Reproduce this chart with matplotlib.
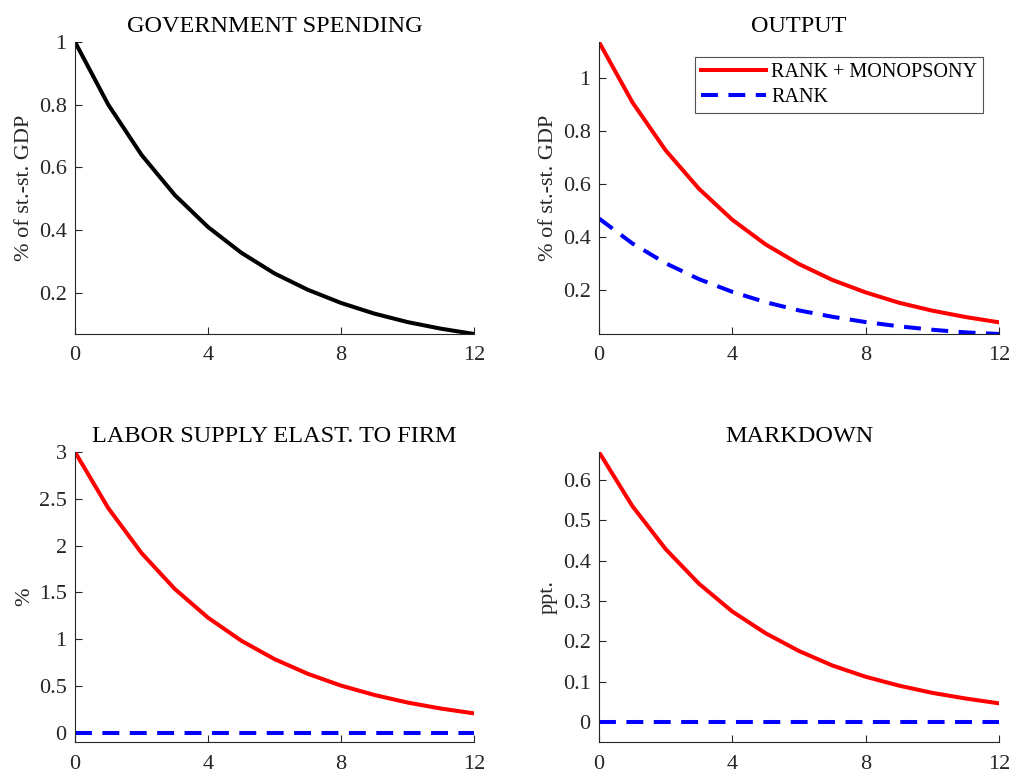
import matplotlib
matplotlib.use("Agg")
import matplotlib.pyplot as plt

plt.rcParams['font.family'] = ['Liberation Serif', 'DejaVu Serif']
plt.rcParams['mathtext.fontset'] = 'stix'

# impulse responses, quarters 0..12
horizon = [0, 1, 2, 3, 4, 5, 6, 7, 8, 9, 10, 11, 12]

gov_spending = [1.000, 0.800, 0.640, 0.512, 0.410, 0.328, 0.262, 0.210, 0.168, 0.134, 0.107, 0.086, 0.069]

output_mono = [1.136, 0.909, 0.727, 0.582, 0.465, 0.372, 0.298, 0.238, 0.191, 0.152, 0.122, 0.098, 0.078]
output_rank = [0.470, 0.376, 0.301, 0.241, 0.193, 0.154, 0.123, 0.099, 0.079, 0.063, 0.050, 0.040, 0.034]

elast_mono = [3.000, 2.400, 1.920, 1.536, 1.229, 0.983, 0.786, 0.629, 0.503, 0.403, 0.322, 0.258, 0.206]
elast_rank = [0.0] * 13

markdown_mono = [0.670, 0.536, 0.429, 0.343, 0.274, 0.220, 0.176, 0.140, 0.112, 0.090, 0.072, 0.058, 0.046]
markdown_rank = [0.0] * 13

xticks = [0, 4, 8, 12]
axcol = '#262626'
lw = 2.9
dash = (4.2, 2.6)

fig = plt.figure(figsize=(10.14, 7.76), dpi=100)
axes = [
    fig.add_axes([0.074, 0.5696, 0.3935, 0.3763]),
    fig.add_axes([0.5907, 0.5696, 0.3945, 0.3763]),
    fig.add_axes([0.074, 0.0438, 0.3935, 0.3737]),
    fig.add_axes([0.5907, 0.0438, 0.3945, 0.3737]),
]


def style(ax, title, ylabel, ylim, yticks, yticklabels):
    ax.set_title(title, fontsize=17.5, color='black', pad=7)
    ax.set_ylabel(ylabel, fontsize=16, color=axcol, labelpad=3.5)
    ax.set_xlim(0, 12)
    ax.set_ylim(*ylim)
    ax.set_xticks(xticks)
    ax.set_yticks(yticks)
    ax.set_yticklabels(yticklabels)
    for s in ('top', 'right'):
        ax.spines[s].set_visible(False)
    for s in ('left', 'bottom'):
        ax.spines[s].set_color(axcol)
        ax.spines[s].set_linewidth(0.8)
    ax.tick_params(direction='in', length=5, width=0.8, colors=axcol,
                   labelsize=16)
    ax.tick_params(axis='x', pad=9)
    ax.tick_params(axis='y', pad=6)


ax = axes[0]
ax.plot(horizon, gov_spending, color='black', lw=lw)
style(ax, 'GOVERNMENT SPENDING', '% of st.-st. GDP', (0.069, 1.0),
      [0.2, 0.4, 0.6, 0.8, 1.0], ['0.2', '0.4', '0.6', '0.8', '1'])

ax = axes[1]
ax.plot(horizon, output_mono, color='red', lw=lw, label='RANK + MONOPSONY')
ax.plot(horizon, output_rank, color='blue', lw=lw, dashes=dash, label='RANK')
style(ax, 'OUTPUT', '% of st.-st. GDP', (0.034, 1.136),
      [0.2, 0.4, 0.6, 0.8, 1.0], ['0.2', '0.4', '0.6', '0.8', '1'])
leg = ax.legend(loc='upper right', bbox_to_anchor=(0.96, 0.95), fontsize=14.5,
                frameon=True, fancybox=False, edgecolor=axcol,
                handlelength=3.2, handletextpad=0.25, borderpad=0.3,
                labelspacing=0.3, borderaxespad=0)
leg.get_frame().set_linewidth(0.8)

ax = axes[2]
ax.plot(horizon, elast_mono, color='red', lw=lw)
ax.plot(horizon, elast_rank, color='blue', lw=lw, dashes=dash)
style(ax, 'LABOR SUPPLY ELAST. TO FIRM', '%', (-0.1, 3.0),
      [0, 0.5, 1, 1.5, 2, 2.5, 3], ['0', '0.5', '1', '1.5', '2', '2.5', '3'])

ax = axes[3]
ax.plot(horizon, markdown_mono, color='red', lw=lw)
ax.plot(horizon, markdown_rank, color='blue', lw=lw, dashes=dash)
style(ax, 'MARKDOWN', 'ppt.', (-0.05, 0.67),
      [0, 0.1, 0.2, 0.3, 0.4, 0.5, 0.6], ['0', '0.1', '0.2', '0.3', '0.4', '0.5', '0.6'])

fig.savefig('out.png', dpi=100)
